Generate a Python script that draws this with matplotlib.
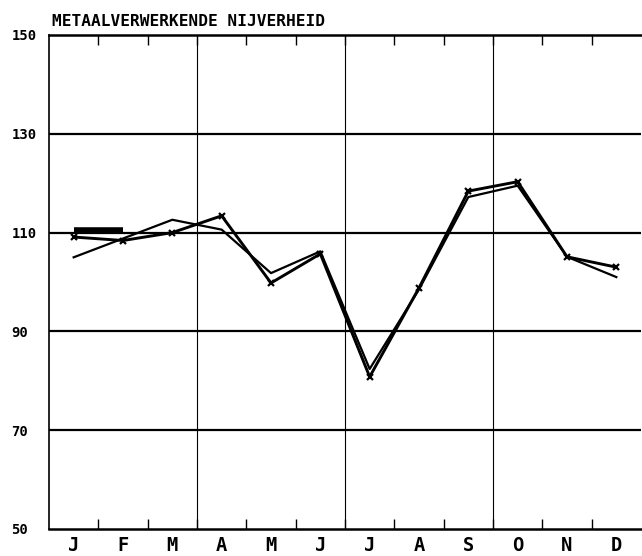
import matplotlib
matplotlib.use("Agg")
import matplotlib.pyplot as plt
import numpy as np

title = "METAALVERWERKENDE NIJVERHEID"
months = ["J", "F", "M", "A", "M", "J", "J", "A", "S", "O", "N", "D"]
series_a = [109.1, 108.4, 110.0, 113.4, 99.8, 105.7, 80.8, 98.8, 118.4, 120.3, 105.1, 103.0]
series_b = [105.0, 108.8, 112.6, 110.6, 101.8, 106.2, 82.4, 98.5, 117.2, 119.5, 105.1, 101.0]
bar_months = [0, 1]
bar_value = 110.5
y_ticks = [50, 70, 90, 110, 130, 150]

W, H = 642, 556
fig = plt.figure(figsize=(W / 100, H / 100), dpi=100)
L, R, T, B = 49, 641, 35, 529
ax = fig.add_axes([L / W, 1 - B / H, (R - L) / W, (B - T) / H])

x = np.arange(len(months)) + 0.5
ax.set_xlim(0, 12)
ax.set_ylim(50, 150)

# grid lines
for yv in y_ticks[1:-1]:
    ax.axhline(yv, color="black", lw=1.6, zorder=1)
for xv in [3, 6, 9]:
    ax.axvline(xv, color="black", lw=0.8, zorder=1)

# bar
ax.plot([x[i] for i in bar_months], [bar_value, bar_value], color="black", lw=4.0,
        solid_capstyle="butt", zorder=3)

ax.plot(x, series_b, color="black", lw=1.6, zorder=3)
ax.plot(x, series_a, color="black", lw=2.1, marker="x", ms=5, mew=1.6, zorder=4)

# spines
for s in ["top", "bottom"]:
    ax.spines[s].set_linewidth(1.8)
ax.spines["left"].set_linewidth(1.2)
ax.spines["right"].set_visible(False)

# x ticks: boundaries (inward) and month labels (minor)
ax.set_xticks(np.arange(1, 12))
ax.set_xticklabels([])
ax.tick_params(axis="x", which="major", direction="in", length=7.5, width=1.0,
               top=True, bottom=True)
ax.set_xticks(x, minor=True)
ax.set_xticklabels(months, minor=True, fontfamily="DejaVu Sans Mono",
                   fontweight="bold", fontsize=13.5)
ax.tick_params(axis="x", which="minor", length=0, pad=5)

# y ticks
ax.set_yticks(y_ticks)
ax.set_yticklabels([str(v) for v in y_ticks], fontfamily="DejaVu Sans Mono",
                   fontweight="bold", fontsize=10)
ax.tick_params(axis="y", length=0, pad=27)
for lab in ax.get_yticklabels():
    lab.set_horizontalalignment("left")

fig.text(52 / W, 1 - 26 / H, title, fontfamily="DejaVu Sans Mono", fontweight="bold",
         fontsize=11.6, ha="left", va="baseline")

fig.savefig("out.png", dpi=100)
